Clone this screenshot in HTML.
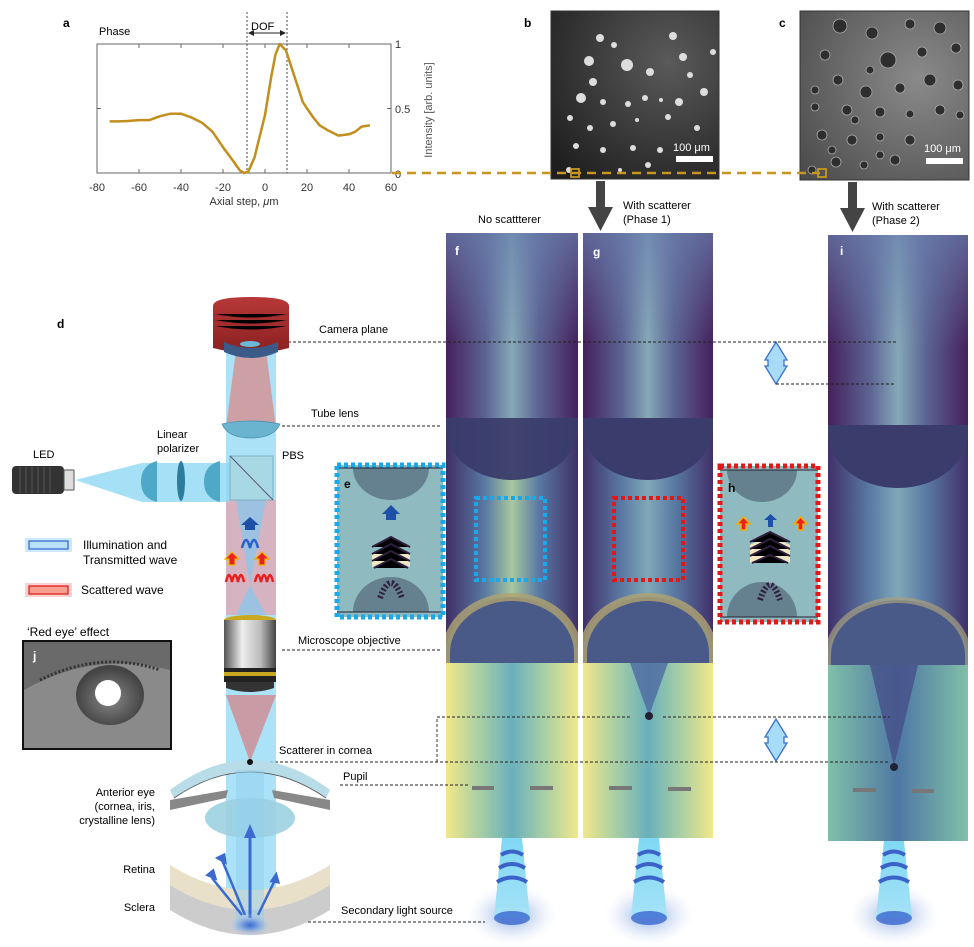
<!DOCTYPE html>
<html><head><meta charset="utf-8"><style>
body{margin:0;background:#fff}
svg{display:block;font-family:"Liberation Sans",Arial,sans-serif}
</style></head><body>
<svg width="974" height="947" viewBox="0 0 974 947" xmlns="http://www.w3.org/2000/svg">
<defs>
<linearGradient id="top" x1="0" x2="1"><stop offset="0" stop-color="#45205c"/><stop offset="0.3" stop-color="#5c6494"/><stop offset="0.5" stop-color="#86a8b8"/><stop offset="0.7" stop-color="#5c6494"/><stop offset="1" stop-color="#45205c"/></linearGradient>
<linearGradient id="topv" x1="0" y1="0" x2="0" y2="1"><stop offset="0" stop-color="#6a7fae" stop-opacity="0.7"/><stop offset="0.6" stop-color="#6a7fae" stop-opacity="0"/></linearGradient>
<linearGradient id="mid" x1="0" x2="1"><stop offset="0" stop-color="#3f2f66"/><stop offset="0.3" stop-color="#5a7aa4"/><stop offset="0.5" stop-color="#a8c8a0"/><stop offset="0.7" stop-color="#5a7aa4"/><stop offset="1" stop-color="#3f2f66"/></linearGradient>
<linearGradient id="midi" x1="0" x2="1"><stop offset="0" stop-color="#40306a"/><stop offset="0.3" stop-color="#5a7aa4"/><stop offset="0.5" stop-color="#7fa8b8"/><stop offset="0.7" stop-color="#5a7aa4"/><stop offset="1" stop-color="#40306a"/></linearGradient>
<linearGradient id="bot" x1="0" x2="1"><stop offset="0" stop-color="#f2e88a"/><stop offset="0.25" stop-color="#a8cfa4"/><stop offset="0.5" stop-color="#6ab0bc"/><stop offset="0.75" stop-color="#a8cfa4"/><stop offset="1" stop-color="#f2e88a"/></linearGradient>
<linearGradient id="boti" x1="0" x2="1"><stop offset="0" stop-color="#80c0a8"/><stop offset="0.5" stop-color="#4f78a4"/><stop offset="1" stop-color="#80c0a8"/></linearGradient>
<linearGradient id="cone" x1="0" y1="0" x2="0" y2="1"><stop offset="0" stop-color="#7fd8f4"/><stop offset="1" stop-color="#a6e2f6"/></linearGradient>
<radialGradient id="glow"><stop offset="0" stop-color="#3c6ad0"/><stop offset="0.3" stop-color="#5a88d8" stop-opacity="0.8"/><stop offset="1" stop-color="#c8d4f0" stop-opacity="0"/></radialGradient>
<linearGradient id="red" x1="0" y1="0" x2="0" y2="1"><stop offset="0" stop-color="#b83838"/><stop offset="1" stop-color="#8a2020"/></linearGradient>
<linearGradient id="obj" x1="0" x2="1"><stop offset="0" stop-color="#555"/><stop offset="0.35" stop-color="#eee"/><stop offset="0.7" stop-color="#bbb"/><stop offset="1" stop-color="#444"/></linearGradient>
<radialGradient id="eyeg" cx="0.5" cy="0.55"><stop offset="0" stop-color="#888"/><stop offset="1" stop-color="#444"/></radialGradient>
<radialGradient id="bimg" cx="0.7" cy="0.3" r="0.9"><stop offset="0" stop-color="#5a5a5a"/><stop offset="1" stop-color="#1e1e1e"/></radialGradient>
<radialGradient id="cimg" cx="0.7" cy="0.4" r="0.9"><stop offset="0" stop-color="#8a8a8a"/><stop offset="1" stop-color="#4a4a4a"/></radialGradient>
<clipPath id="cf"><rect x="446" y="233" width="132" height="605"/></clipPath>
<clipPath id="cg"><rect x="583" y="233" width="130" height="605"/></clipPath>
<clipPath id="ci"><rect x="828" y="235" width="140" height="606"/></clipPath>
</defs>

<!-- ===== Plot a ===== -->
<text x="63" y="27" font-size="12" font-weight="bold">a</text>
<text x="99" y="35" font-size="11">Phase</text>
<rect x="97" y="44" width="294" height="129" fill="none" stroke="#666" stroke-width="1"/>
<g stroke="#666">
<line x1="139" y1="173" x2="139" y2="169"/><line x1="181" y1="173" x2="181" y2="169"/><line x1="223" y1="173" x2="223" y2="169"/><line x1="265" y1="173" x2="265" y2="169"/><line x1="307" y1="173" x2="307" y2="169"/><line x1="349" y1="173" x2="349" y2="169"/>
<line x1="139" y1="44" x2="139" y2="48"/><line x1="181" y1="44" x2="181" y2="48"/><line x1="223" y1="44" x2="223" y2="48"/><line x1="265" y1="44" x2="265" y2="48"/><line x1="307" y1="44" x2="307" y2="48"/><line x1="349" y1="44" x2="349" y2="48"/>
<line x1="97" y1="108.5" x2="101" y2="108.5"/><line x1="391" y1="108.5" x2="387" y2="108.5"/>
</g>
<g font-size="11" fill="#333" text-anchor="middle">
<text x="97" y="191">-80</text><text x="139" y="191">-60</text><text x="181" y="191">-40</text><text x="223" y="191">-20</text><text x="265" y="191">0</text><text x="307" y="191">20</text><text x="349" y="191">40</text><text x="391" y="191">60</text>
<text x="244" y="205">Axial step, <tspan font-style="italic">μ</tspan>m</text>
</g>
<g font-size="11" fill="#333"><text x="395" y="48">1</text><text x="395" y="113">0.5</text><text x="395" y="178">0</text></g>
<text transform="translate(432,110) rotate(-90)" font-size="11" fill="#555" text-anchor="middle">Intensity [arb. units]</text>
<line x1="247" y1="12" x2="247" y2="173" stroke="#222" stroke-width="0.8" stroke-dasharray="2,2"/>
<line x1="287" y1="12" x2="287" y2="173" stroke="#222" stroke-width="0.8" stroke-dasharray="2,2"/>
<text x="251" y="30" font-size="11">DOF</text>
<line x1="251" y1="33" x2="283" y2="33" stroke="#222"/>
<path d="M248,33 l6,-3 v6z M286,33 l-6,-3 v6z" fill="#222"/>
<polyline fill="none" stroke="#c28e1e" stroke-width="2.5" stroke-linejoin="round" points="109.6,121.4 118,121.4 128,121 139,120.1 149.5,120.1 160,116.2 170.5,113.7 181,113.7 191.5,117.5 202,122.7 212.5,131.7 223,147.2 233.5,161.4 239.8,170.4 244,173 248.2,171.7 254.5,157.5 265,115 271.3,76.3 275.5,54.3 279.7,44 286,50.5 292.3,69.8 296.5,82.7 302.8,102 307,108.5 313.3,117.5 319.6,125.3 328,130.4 338.5,135.6 349,134.3 355.3,131.7 361.6,126.6 370,125.3"/>

<!-- ===== images b, c ===== -->
<text x="524" y="27" font-size="12" font-weight="bold">b</text>
<text x="779" y="27" font-size="12" font-weight="bold">c</text>
<rect x="551" y="11" width="168" height="168" fill="url(#bimg)" stroke="#333"/>
<g fill="#ddd">
<circle cx="600" cy="38" r="4"/><circle cx="614" cy="45" r="3"/><circle cx="589" cy="61" r="5"/><circle cx="627" cy="65" r="6"/><circle cx="650" cy="72" r="4"/><circle cx="673" cy="36" r="4"/><circle cx="683" cy="57" r="4"/><circle cx="593" cy="82" r="4"/><circle cx="581" cy="98" r="5"/><circle cx="603" cy="102" r="3"/><circle cx="628" cy="104" r="3"/><circle cx="645" cy="98" r="3"/><circle cx="661" cy="100" r="2"/><circle cx="679" cy="102" r="4"/><circle cx="704" cy="92" r="4"/><circle cx="570" cy="118" r="3"/><circle cx="590" cy="128" r="3"/><circle cx="613" cy="124" r="3"/><circle cx="637" cy="120" r="2"/><circle cx="668" cy="117" r="3"/><circle cx="697" cy="128" r="3"/><circle cx="576" cy="146" r="3"/><circle cx="603" cy="150" r="3"/><circle cx="633" cy="148" r="3"/><circle cx="660" cy="150" r="3"/><circle cx="713" cy="52" r="3"/><circle cx="569" cy="170" r="3"/><circle cx="620" cy="170" r="2"/><circle cx="648" cy="165" r="3"/><circle cx="690" cy="75" r="3"/></g>
<rect x="676" y="156" width="37" height="6" fill="#fff"/>
<text x="673" y="151" font-size="11" fill="#fff">100 μm</text>
<rect x="800" y="11" width="169" height="169" fill="url(#cimg)" stroke="#333"/>
<g fill="#2e2e2e" stroke="#aaa" stroke-width="0.8">
<circle cx="840" cy="26" r="7"/><circle cx="872" cy="33" r="6"/><circle cx="910" cy="24" r="5"/><circle cx="940" cy="28" r="6"/><circle cx="825" cy="55" r="5"/><circle cx="888" cy="60" r="8"/><circle cx="922" cy="52" r="5"/><circle cx="956" cy="48" r="5"/><circle cx="838" cy="80" r="5"/><circle cx="866" cy="92" r="6"/><circle cx="900" cy="88" r="5"/><circle cx="930" cy="80" r="6"/><circle cx="958" cy="85" r="5"/><circle cx="815" cy="107" r="4"/><circle cx="847" cy="110" r="5"/><circle cx="880" cy="112" r="5"/><circle cx="910" cy="114" r="4"/><circle cx="940" cy="110" r="5"/><circle cx="822" cy="135" r="5"/><circle cx="852" cy="140" r="5"/><circle cx="880" cy="137" r="4"/><circle cx="910" cy="140" r="5"/><circle cx="836" cy="162" r="5"/><circle cx="864" cy="165" r="4"/><circle cx="895" cy="160" r="5"/><circle cx="812" cy="170" r="4"/><circle cx="855" cy="120" r="4"/><circle cx="960" cy="115" r="4"/><circle cx="815" cy="90" r="4"/><circle cx="832" cy="150" r="4"/><circle cx="880" cy="155" r="4"/><circle cx="870" cy="70" r="4"/></g>
<rect x="926" y="158" width="37" height="6" fill="#fff"/>
<text x="924" y="152" font-size="11" fill="#fff">100 μm</text>
<line x1="392" y1="173" x2="820" y2="173" stroke="#c8961e" stroke-width="2.5" stroke-dasharray="9,6"/>
<rect x="571" y="169" width="8" height="8" fill="none" stroke="#c8961e" stroke-width="1.8"/>
<rect x="818" y="169" width="8" height="8" fill="none" stroke="#c8961e" stroke-width="1.8"/>

<!-- down arrows -->
<path d="M596,181 h9 v26 h8 l-12.5,24 l-12.5,-24 h8z" fill="#444"/>
<path d="M848,182 h9 v26 h8 l-12.5,24 l-12.5,-24 h8z" fill="#444"/>
<g font-size="11"><text x="478" y="223">No scattterer</text><text x="623" y="209">With scatterer</text><text x="623" y="223">(Phase 1)</text><text x="872" y="210">With scatterer</text><text x="872" y="224">(Phase 2)</text></g>

<!-- ===== simulation panels ===== -->
<g clip-path="url(#cf)">
<rect x="446" y="233" width="132" height="185" fill="url(#top)"/>
<rect x="446" y="233" width="132" height="185" fill="url(#topv)"/>
<rect x="446" y="418" width="132" height="245" fill="url(#mid)"/>
<path d="M446,418 h132 v10 a66,52 0 0 1 -132,0z" fill="#3a3c6c" opacity="0.95"/>
<path d="M446,663 v-10 a66,56 0 0 1 132,0 v10z" fill="#4a5a88"/>
<path d="M446,663 v-10 a66,56 0 0 1 132,0 v10" fill="none" stroke="#b0a470" stroke-width="8" opacity="0.8"/>
<rect x="446" y="663" width="132" height="175" fill="url(#bot)"/>
</g>
<text x="455" y="255" font-size="12" font-weight="bold" fill="#fff">f</text>
<rect x="472" y="786" width="22" height="4" fill="#777"/><rect x="530" y="786" width="23" height="4" fill="#777"/>
<g clip-path="url(#cg)">
<rect x="583" y="233" width="130" height="185" fill="url(#top)"/>
<rect x="583" y="233" width="130" height="185" fill="url(#topv)"/>
<rect x="583" y="418" width="130" height="245" fill="url(#midi)"/>
<path d="M583,418 h130 v10 a65,52 0 0 1 -130,0z" fill="#3a3c6c"/>
<path d="M583,663 v-10 a65,56 0 0 1 130,0 v10z" fill="#4a5a88"/>
<path d="M583,663 v-10 a65,56 0 0 1 130,0 v10" fill="none" stroke="#b0a470" stroke-width="8" opacity="0.8"/>
<rect x="583" y="663" width="130" height="175" fill="url(#bot)"/>
<path d="M630,663 L649,716 L668,663z" fill="#4f6aa0" opacity="0.8"/>
</g>
<circle cx="649" cy="716" r="4" fill="#223"/>
<text x="593" y="256" font-size="12" font-weight="bold" fill="#fff">g</text>
<rect x="609" y="786" width="23" height="4" fill="#777"/><rect x="668" y="787" width="23" height="4" fill="#777"/>

<g clip-path="url(#ci)">
<rect x="828" y="235" width="140" height="190" fill="url(#top)"/>
<rect x="828" y="235" width="140" height="190" fill="url(#topv)"/>
<rect x="828" y="425" width="140" height="240" fill="url(#midi)"/>
<path d="M828,425 h140 v8 a70,55 0 0 1 -140,0z" fill="#3a3c6c"/>
<path d="M828,665 v-10 a70,55 0 0 1 140,0 v10z" fill="#4a5a88"/>
<path d="M828,665 v-10 a70,55 0 0 1 140,0 v10" fill="none" stroke="#a8a080" stroke-width="6" opacity="0.7"/>
<rect x="828" y="665" width="140" height="176" fill="url(#boti)"/>
<path d="M870,665 L894,766 L918,665z" fill="#46508a" opacity="0.8"/>
</g>
<circle cx="894" cy="767" r="4" fill="#223"/>
<text x="840" y="255" font-size="12" font-weight="bold" fill="#fff">i</text>
<rect x="853" y="788" width="23" height="4" fill="#777"/><rect x="912" y="789" width="22" height="4" fill="#777"/>

<!-- dashed boxes inside panels -->
<rect x="476" y="498" width="69" height="82" fill="none" stroke="#1aa8e8" stroke-width="4" stroke-dasharray="4,3"/>
<rect x="614" y="498" width="69" height="82" fill="none" stroke="#e01818" stroke-width="4" stroke-dasharray="4,3"/>

<!-- sources under panels -->
<g>
<ellipse cx="512" cy="915" rx="45" ry="30" fill="url(#glow)" opacity="0.5"/>
<path d="M502,838 h20 l8,80 h-36z" fill="url(#cone)"/>
<ellipse cx="512" cy="918" rx="18" ry="7" fill="#3a68d0" opacity="0.8"/>
<path d="M501,855 q11,-7 22,0 M499,868 q13,-8 26,0 M497,882 q15,-9 30,0" fill="none" stroke="#3a62c8" stroke-width="4"/>
<ellipse cx="649" cy="915" rx="45" ry="30" fill="url(#glow)" opacity="0.5"/>
<path d="M639,838 h20 l8,80 h-36z" fill="url(#cone)"/>
<ellipse cx="649" cy="918" rx="18" ry="7" fill="#3a68d0" opacity="0.8"/>
<path d="M638,855 q11,-7 22,0 M636,868 q13,-8 26,0 M634,882 q15,-9 30,0" fill="none" stroke="#3a62c8" stroke-width="4"/>
<ellipse cx="894" cy="915" rx="45" ry="30" fill="url(#glow)" opacity="0.5"/>
<path d="M884,841 h20 l8,77 h-36z" fill="url(#cone)"/>
<ellipse cx="894" cy="918" rx="18" ry="7" fill="#3a68d0" opacity="0.8"/>
<path d="M883,855 q11,-7 22,0 M881,868 q13,-8 26,0 M879,882 q15,-9 30,0" fill="none" stroke="#3a62c8" stroke-width="4"/>
</g>

<!-- insets e and h -->
<g>
<rect x="337" y="465" width="106" height="152" fill="#8fbac0"/>
<path d="M353,468 h76 a38,32 0 0 1 -76,0z" fill="#65808f"/>
<path d="M353,612 a38,35 0 0 1 76,0z" fill="#65808f"/>
<line x1="337" y1="468" x2="443" y2="468" stroke="#223"/><line x1="337" y1="612" x2="443" y2="612" stroke="#223"/>
<path d="M372,555 l19,-12 l19,12 v12 l-19,-8 l-19,8z" fill="#f0e8c0"/>
<g stroke="#302040" stroke-width="2"><path d="M372,547 l19,-10 l19,10 M372,554 l19,-10 l19,10 M372,561 l19,-10 l19,10 M374,568 l17,-9 l17,9"/></g>
<path d="M380,598 q11,-30 22,0" fill="none" stroke="#302040" stroke-width="6" stroke-dasharray="2,2"/>
<path d="M386,520 h10 v-6 h4 l-9,-9 l-9,9 h4z" fill="#1e50a8"/>
<text x="344" y="488" font-size="12" font-weight="bold">e</text>
<rect x="337" y="465" width="106" height="152" fill="none" stroke="#1aa8e8" stroke-width="5" stroke-dasharray="4,3"/>
</g>
<g>
<rect x="720" y="466" width="98" height="156" fill="#8fbac0"/>
<path d="M727,470 h70 a35,32 0 0 1 -70,0z" fill="#65808f"/>
<path d="M727,617 a35,35 0 0 1 70,0z" fill="#65808f"/>
<line x1="720" y1="470" x2="818" y2="470" stroke="#223"/><line x1="720" y1="617" x2="818" y2="617" stroke="#223"/>
<path d="M750,545 l20,-10 l20,10 v18 l-20,-8 l-20,8z" fill="#f0e8c0"/>
<g stroke="#302040" stroke-width="2"><path d="M750,542 l20,-10 l20,10 M750,549 l20,-10 l20,10 M750,556 l20,-10 l20,10 M752,563 l18,-8 l18,8"/></g>
<path d="M760,600 q10,-30 20,0" fill="none" stroke="#302040" stroke-width="6" stroke-dasharray="2,2"/>
<path d="M768,527 h5 v-7 h4 l-6.5,-6 l-6.5,6 h4z" fill="#1e50a8"/>
<path d="M741,530 h5 v-6 h4 l-6.5,-7 l-6.5,7 h4z M798,530 h5 v-6 h4 l-6.5,-7 l-6.5,7 h4z" fill="#e82020" stroke="#f0b000" stroke-width="1.5"/>
<text x="728" y="492" font-size="12" font-weight="bold">h</text>
<rect x="720" y="466" width="98" height="156" fill="none" stroke="#e01818" stroke-width="5" stroke-dasharray="4,3"/>
</g>

<!-- double arrows -->
<path d="M776,342 l11,18 h-3 v6 h3 l-11,18 l-11,-18 h3 v-6 h-3z" fill="#a8dcf6" stroke="#3a70c8" stroke-width="1.3"/>
<path d="M776,719 l11,18 h-3 v6 h3 l-11,18 l-11,-18 h3 v-6 h-3z" fill="#a8dcf6" stroke="#3a70c8" stroke-width="1.3"/>

<!-- dashed guide lines -->
<g stroke="#222" stroke-width="0.9" stroke-dasharray="3,2" fill="none">
<line x1="258" y1="342" x2="897" y2="342"/>
<line x1="776" y1="384" x2="895" y2="384"/>
<line x1="282" y1="426" x2="442" y2="426"/>
<line x1="282" y1="650" x2="442" y2="650"/>
<path d="M437,762 V717 H632"/><line x1="663" y1="717" x2="890" y2="717"/>
<line x1="255" y1="762" x2="888" y2="762"/>
<line x1="340" y1="785" x2="470" y2="785"/>
<line x1="268" y1="922" x2="485" y2="922"/>
</g>

<!-- ===== optical setup d ===== -->
<text x="57" y="328" font-size="12" font-weight="bold">d</text>
<rect x="226" y="350" width="50" height="560" fill="#8fd8f4" opacity="0.75"/>
<path d="M236,350 L266,350 L276,428 L226,428z" fill="#d49090" opacity="0.8"/>
<path d="M226,500 h50 v115 h-50z" fill="#e8a0a8" opacity="0.7"/>
<path d="M236,500 L266,500 L250,585z M250,585 L236,615 h30z" fill="#8fc4e8" opacity="0.8"/>
<path d="M226,695 h50 L250,762z" fill="#d08a90" opacity="0.8"/>
<path d="M75,480 L142,463 L230,463 L230,502 L142,502z" fill="#8fd8f4" opacity="0.8"/>
<path d="M213,306 q0,-9 38,-9 q38,0 38,9 v42 q-38,10 -76,0z" fill="url(#red)"/>
<g stroke="#9a2a2a" stroke-width="1"><path d="M213,314 q38,8 76,0 M213,320 q38,8 76,0 M213,326 q38,8 76,0"/></g>
<path d="M224,342 q27,12 54,0 v10 q-27,12 -54,0z" fill="#3a5a88"/>
<ellipse cx="250" cy="344" rx="10" ry="3" fill="#6ab8d8"/>
<path d="M222,424 q28,-6 58,0 q-6,14 -29,14 q-23,0 -29,-14z" fill="#6ab4d0" stroke="#4a90b0" stroke-width="0.8"/>
<rect x="230" y="456" width="43" height="44" fill="#a8d8e4" stroke="#80b0c0"/>
<line x1="230" y1="456" x2="273" y2="500" stroke="#557"/>
<rect x="12" y="466" width="52" height="28" rx="4" fill="#333"/>
<g stroke="#555"><line x1="20" y1="467" x2="20" y2="493"/><line x1="26" y1="467" x2="26" y2="493"/><line x1="32" y1="467" x2="32" y2="493"/><line x1="38" y1="467" x2="38" y2="493"/><line x1="44" y1="467" x2="44" y2="493"/><line x1="50" y1="467" x2="50" y2="493"/></g>
<rect x="64" y="470" width="10" height="20" fill="#ddd" stroke="#555"/>
<text x="33" y="458" font-size="11">LED</text>
<path d="M157,461 v41 q-16,-4 -16,-20 q0,-17 16,-21z" fill="#4ea8c8"/>
<ellipse cx="181" cy="481" rx="4" ry="20" fill="#2d7c9e"/>
<path d="M220,461 v41 q-16,-4 -16,-20 q0,-17 16,-21z" fill="#4ea8c8"/>
<text x="157" y="438" font-size="11">Linear</text><text x="157" y="452" font-size="11">polarizer</text>
<text x="282" y="459" font-size="11">PBS</text>
<text x="319" y="333" font-size="11">Camera plane</text>
<text x="311" y="417" font-size="11">Tube lens</text>
<path d="M245,530 h10 v-5 h4 l-9,-8 l-9,8 h4z" fill="#1e50a8"/>
<path d="M242,548 q4,-16 8,0 q4,-16 8,0" fill="none" stroke="#2a60c8" stroke-width="2.5"/>
<path d="M229,565 h6 v-6 h4 l-7,-7 l-7,7 h4z M259,565 h6 v-6 h4 l-7,-7 l-7,7 h4z" fill="#e82020" stroke="#f0b000" stroke-width="1.2"/>
<path d="M226,582 q3,-14 6,0 q3,-14 6,0 q3,-14 6,0 M255,582 q3,-14 6,0 q3,-14 6,0 q3,-14 6,0" fill="none" stroke="#e82020" stroke-width="2.5"/>
<ellipse cx="250" cy="620" rx="26" ry="5" fill="#c8a820"/>
<rect x="224" y="620" width="52" height="48" fill="url(#obj)"/>
<rect x="224" y="668" width="52" height="14" fill="#222"/>
<rect x="224" y="672" width="52" height="4" fill="#c8a820"/>
<path d="M226,682 h48 v6 q-24,8 -48,0z" fill="#333"/>
<text x="298" y="644" font-size="11">Microscope objective</text>
<rect x="25" y="538" width="47" height="14" fill="#a8dcf8" opacity="0.6"/>
<rect x="29" y="541" width="39" height="8" fill="#b8e0f8" stroke="#3a6ad0" stroke-width="1.3"/>
<text x="83" y="549" font-size="12">Illumination and</text>
<text x="83" y="564" font-size="12">Transmitted wave</text>
<rect x="25" y="583" width="47" height="14" fill="#f8b0b0" opacity="0.6"/>
<rect x="29" y="586" width="39" height="8" fill="#f8a090" stroke="#e02020" stroke-width="1.3"/>
<text x="81" y="594" font-size="12">Scattered wave</text>
<text x="27" y="636" font-size="12">‘Red eye’ effect</text>
<rect x="23" y="641" width="148" height="108" fill="#6a6a6a" stroke="#111" stroke-width="2"/>
<path d="M24,690 q70,-40 146,-20 v78 h-146z" fill="#8a8a8a"/>
<ellipse cx="110" cy="695" rx="34" ry="30" fill="url(#eyeg)"/>
<circle cx="108" cy="693" r="13" fill="#fff"/>
<path d="M40,680 q60,-30 120,-10" fill="none" stroke="#333" stroke-width="3" stroke-dasharray="2,2"/>
<text x="33" y="660" font-size="12" font-weight="bold" fill="#fff">j</text>
<path d="M170,790 q80,-60 160,0 l-4,8 q-76,-52 -152,0z" fill="#b8dce8"/>
<path d="M174,798 q76,-52 152,0" fill="none" stroke="#555" stroke-width="0.8"/>
<path d="M170,800 l58,-10 l-2,8 l-56,12z M330,800 l-58,-10 l2,8 l56,12z" fill="#888"/>
<ellipse cx="250" cy="818" rx="45" ry="20" fill="#9cd0e0" opacity="0.9"/>
<path d="M170,865 q80,50 160,0 v20 q-80,50 -160,0z" fill="#e8e0c8"/>
<path d="M170,885 q80,50 160,0 v25 q-80,50 -160,0z" fill="#ccc"/>
<rect x="236" y="770" width="28" height="160" fill="#8fd0f0" opacity="0.5"/>
<line x1="250" y1="918" x2="250" y2="835" stroke="#3a6ad0" stroke-width="3"/>
<path d="M244,838 l6,-14 l6,14z" fill="#3a6ad0"/>
<path d="M245,915 L222,860 M242,915 L212,878 M258,915 L275,880" stroke="#3a6ad0" stroke-width="2.5" fill="none"/>
<path d="M218,858 l6,-3 l1,7z M208,875 l5,-4 l2,7z M276,875 l2,7 l-6,-1z" fill="#3a6ad0" stroke="#3a6ad0" stroke-width="3"/>
<ellipse cx="250" cy="925" rx="22" ry="12" fill="url(#glow)"/>
<circle cx="250" cy="762" r="3" fill="#111"/>
<text x="279" y="754" font-size="11">Scatterer in cornea</text>
<text x="343" y="780" font-size="11">Pupil</text>
<g font-size="11" text-anchor="end"><text x="155" y="796">Anterior eye</text><text x="155" y="810">(cornea, iris,</text><text x="155" y="824">crystalline lens)</text><text x="155" y="873">Retina</text><text x="155" y="911">Sclera</text></g>
<text x="341" y="914" font-size="11">Secondary light source</text>
</svg>
</body></html>
